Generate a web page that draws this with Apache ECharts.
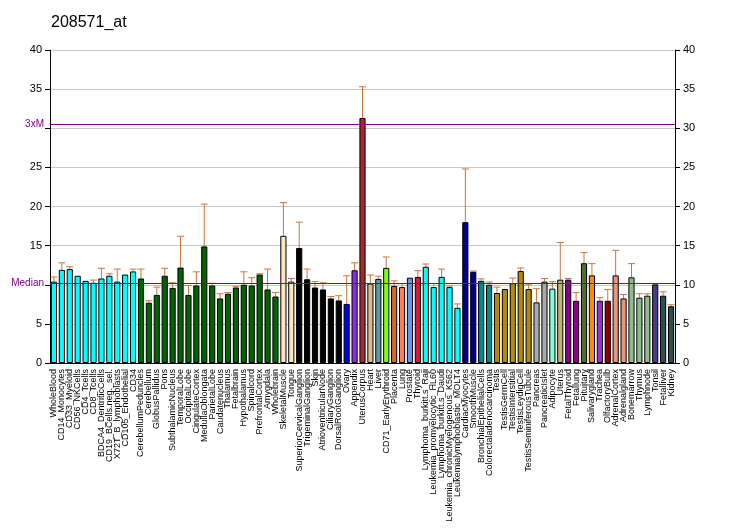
<!DOCTYPE html>
<html><head><meta charset="utf-8">
<script src="https://cdn.jsdelivr.net/npm/echarts@6/dist/echarts.min.js"></script>
<style>html,body{margin:0;padding:0;background:#fff}#c{width:732px;height:530px}</style>
</head><body><div id="c"></div>
<script>
const categories = ["WholeBlood","CD14_Monocytes","CD33_Myeloid","CD56_NKCells","CD4_Tcells","CD8_Tcells","BDCA4_DentriticCells","CD19_BCells.neg._sel.","X72T_B_lymphoblasts","CD105_Endothelial","CD34","CerebellumPeduncles","Cerebellum","GlobusPallidus","Pons","SubthalamicNucleus","TemporalLobe","OccipitalLobe","CingulateCortex","MedullaOblongata","ParietalLobe","Caudatenucleus","Thalamus","Fetalbrain","Hypothalamus","Spinalcord","PrefrontalCortex","Amygdala","Wholebrain","SkeletalMuscle","Tongue","SuperiorCervicalGanglion","TrigeminalGanglion","Skin","AtrioventricularNode","CiliaryGanglion","DorsalRootGanglion","Ovary","Appendix","UterusCorpus","Heart","Liver","CD71_EarlyErythroid","Placenta","Lung","Prostate","Thyroid","Lymphoma_burkitt.s_Raji","Leukemia_promyelocytic_HL60","Lymphoma_burkitt.s_Daudi","Leukemia_chronicMyelogenous_K562","Leukemialymphoblastic_MOLT4","CardiacMyocytes","SmoothMuscle","BronchialEpithelialCells","Colorectaladenocarcinoma","Testis","TestisGermCell","TestisInterstitial","TestisLeydigCell","TestisSeminiferousTubule","Pancreas","PancreaticIslet","Adipocyte","Uterus","FetalThyroid","Fetallung","Pituitary","Salivarygland","Trachea","OlfactoryBulb","AdrenalCortex","Adrenalgland","Bonemarrow","Thymus","Lymphnode","Tonsil","Fetalliver","Kidney"];
const values = [10.4,11.9,12.0,11.15,10.5,10.25,10.8,11.15,10.4,11.3,11.7,10.8,7.7,8.7,11.15,9.6,12.2,8.7,9.9,14.9,9.9,8.25,8.85,9.65,10.0,9.9,11.3,9.4,8.5,16.25,10.4,14.7,10.7,9.65,9.4,8.25,8.0,7.55,11.85,31.3,10.15,10.75,12.15,9.85,9.7,10.9,11.0,12.3,9.7,11.0,9.7,7.05,18.0,11.65,10.5,10.0,8.95,9.45,10.2,11.75,9.45,7.75,10.4,9.5,10.65,10.65,7.95,12.75,11.2,7.95,7.95,11.2,8.25,10.95,8.35,8.6,10.05,8.6,7.25];
const errorTops = [11.0,12.8,12.3,11.2,10.5,10.6,12.1,11.4,12.0,11.35,12.0,12.0,7.95,9.7,12.1,10.25,16.2,9.9,11.65,20.3,10.2,8.85,9.0,9.8,11.65,10.9,11.4,12.0,9.0,20.5,10.8,18.0,12.0,10.4,10.25,8.5,8.6,11.15,12.8,35.3,11.25,11.1,13.55,10.5,10.15,10.9,11.8,12.65,10.15,12.0,9.85,7.55,24.8,11.75,10.75,10.35,9.7,9.45,10.85,12.15,10.0,9.5,10.8,10.4,15.4,10.8,9.0,14.1,12.7,8.35,9.4,14.4,8.75,12.7,8.85,8.85,10.05,9.1,7.45];
const yTicks = [0,5,10,15,20,25,30,35,40];
const median = 10.15;
const threeM = 30.45;

const groupColors = [
  ["#00FFFF",11],["#006400",18],["#FFE4C4",2],["#000000",6],["#0000FF",1],["#8A2BE2",1],["#A52A2A",1],
  ["#DEB887",1],["#5F9EA0",1],["#7FFF00",1],["#D2691E",1],["#FF7F50",1],["#6495ED",1],["#DC143C",1],
  ["#00FFFF",5],["#00008B",2],["#008B8B",2],["#B8860B",5],["#A9A9A9",2],["#7FFFD4",1],["#BDB76B",1],
  ["#8B008B",2],["#556B2F",1],["#FF8C00",1],["#9932CC",1],["#8B0000",1],["#E9967A",2],["#8FBC8F",3],
  ["#483D8B",1],["#2F4F4F",2]
];
const barColors = [];
groupColors.forEach(([c,n]) => { for (let i=0;i<n;i++) barColors.push(c); });

const FONT = "Liberation Sans";
const chart = echarts.init(document.getElementById('c'));
chart.setOption({
  animation: false,
  title: { text: "208571_at", left: 46, top: 10, textStyle: { fontFamily: FONT, fontSize: 16, fontWeight: 'normal', color: '#000' } },
  grid: { left: 50, right: 57, top: 50, bottom: 167 },
  xAxis: {
    type: 'category', data: categories,
    axisLine: { lineStyle: { color: '#000' } },
    axisTick: { alignWithLabel: true, length: 4, lineStyle: { color: '#000' } },
    axisLabel: { rotate: 90, interval: 0, fontFamily: FONT, fontSize: 9, color: '#000', margin: 6 }
  },
  yAxis: [
    { type: 'value', min: 0, max: 40, interval: 5, position: 'left',
      axisLine: { show: true, lineStyle: { color: '#000' } },
      axisTick: { show: true, length: 5, lineStyle: { color: '#000' } },
      axisLabel: { fontFamily: FONT, fontSize: 11, color: '#000', margin: 8,
        formatter: v => (v === 10 || v === 30) ? '' : String(v) },
      splitLine: { show: true, lineStyle: { color: '#C8C8C8' } } },
    { type: 'value', min: 0, max: 40, interval: 5, position: 'right',
      axisLine: { show: true, lineStyle: { color: '#000' } },
      axisTick: { show: true, length: 5, lineStyle: { color: '#000' } },
      axisLabel: { fontFamily: FONT, fontSize: 11, color: '#000', margin: 8 },
      splitLine: { show: false } }
  ],
  series: [
    { type: 'bar', data: values.map((v,i) => ({ value: v, itemStyle: { color: barColors[i] } })),
      barCategoryGap: '22%',
      itemStyle: { borderColor: '#000', borderWidth: 1 },
      markLine: { symbol: 'none', silent: true,
        lineStyle: { color: '#800080', type: 'solid', width: 1 },
        label: { position: 'start', color: '#800080', fontFamily: FONT, fontSize: 10, distance: 6 },
        data: [ { yAxis: median, label: { formatter: 'Median' } }, { yAxis: threeM, label: { formatter: '3xM' } } ] }
    },
    { type: 'custom', data: values.map((v,i) => [i, v, errorTops[i]]), z: 1,
      renderItem: (params, api) => {
        const i = api.value(0), v = api.value(1), e = api.value(2);
        if (e - v < 0.08) return null;
        const p0 = api.coord([i, v]), p1 = api.coord([i, e]);
        const w = 3.5;
        const st = { stroke: '#C8763A', lineWidth: 1 };
        return { type: 'group', children: [
          { type: 'line', shape: { x1: p0[0], y1: p0[1], x2: p1[0], y2: p1[1] }, style: st },
          { type: 'line', shape: { x1: p1[0]-w, y1: p1[1], x2: p1[0]+w, y2: p1[1] }, style: st }
        ]};
      }
    }
  ]
});
</script></body></html>
